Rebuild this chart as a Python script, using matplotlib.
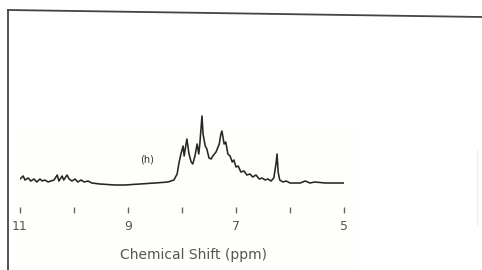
import matplotlib
matplotlib.use("Agg")
import matplotlib.pyplot as plt
from matplotlib.lines import Line2D
from matplotlib.patches import Rectangle

# ---------------------------------------------------------------------------
# Data (ppm, relative intensity)
# ---------------------------------------------------------------------------
ppm = [
    11.00, 10.94, 10.91, 10.85, 10.80, 10.74, 10.69, 10.63, 10.59, 10.54,
    10.48, 10.43, 10.37, 10.31, 10.28, 10.22, 10.19, 10.13, 10.09, 10.04,
    9.98, 9.93, 9.87, 9.81, 9.74, 9.67, 9.52, 9.24, 9.06, 8.78,
    8.50, 8.26, 8.15, 8.09, 8.06, 8.02, 7.98, 7.96, 7.94, 7.91,
    7.87, 7.83, 7.80, 7.76, 7.72, 7.69, 7.67, 7.63, 7.61, 7.57,
    7.54, 7.50, 7.46, 7.43, 7.37, 7.31, 7.28, 7.26, 7.22, 7.19,
    7.15, 7.11, 7.07, 7.04, 7.00, 6.96, 6.91, 6.85, 6.80, 6.74,
    6.69, 6.63, 6.57, 6.52, 6.46, 6.41, 6.35, 6.30, 6.26, 6.24,
    6.22, 6.19, 6.13, 6.07, 6.00, 5.81, 5.72, 5.63, 5.54, 5.35,
    5.00,
]
intensity = [
    5, 8, 4, 6, 3, 5, 2, 5, 3, 4,
    2, 3, 4, 9, 3, 8, 4, 9, 5, 3,
    5, 2, 4, 2, 3, 1, 0, -1, -1, 0,
    1, 2, 4, 10, 20, 30, 38, 28, 35, 45,
    30, 22, 20, 28, 40, 30, 40, 68, 50, 38,
    35, 26, 25, 28, 32, 40, 50, 53, 40, 42,
    30, 28, 22, 24, 17, 18, 12, 13, 9, 10,
    7, 9, 5, 6, 4, 5, 3, 6, 20, 30,
    12, 4, 2, 3, 1, 1, 3, 1, 2, 1,
    1,
]

tick_pos = [11, 10, 9, 8, 7, 6, 5]
tick_labels = ["11", "", "9", "", "7", "", "5"]

W, H = 482, 270
TEXT = "#555555"
INK = "#262626"

fig = plt.figure(figsize=(W / 100, H / 100), dpi=100)
fig.patch.set_facecolor("white")

# faint cream patch of the scanned page
fig.add_artist(Rectangle((18 / W, 0), 335 / W, 142 / H,
                         transform=fig.transFigure, color="#fefefb",
                         zorder=-5))

# ---- spectrum axes: 11 ppm at x=20 px, 5 ppm at x=344 px --------------------
ax = fig.add_axes([20 / W, 82 / H, 324 / W, 76 / H])
ax.set_zorder(3)
ax.patch.set_visible(False)
ax.plot(ppm, intensity, color=INK, lw=1.15, solid_joinstyle="round")
ax.set_xlim(11, 5)
ax.set_ylim(-4, 72)

for side in ["top", "right", "left"]:
    ax.spines[side].set_visible(False)
ax.spines["bottom"].set_position(("outward", 14))
ax.spines["bottom"].set_visible(False)
ax.set_yticks([])
ax.set_xticks(tick_pos)
ax.set_xticklabels(tick_labels)
ax.tick_params(axis="x", direction="out", length=4.3, width=1.0,
               color="#666666", pad=5, labelsize=9, labelcolor=TEXT)

ax.text(8.65, 25, "(h)", fontsize=7, color="#333333",
        ha="center", va="center")

fig.text(193 / W, 1 - 255 / H, "Chemical Shift (ppm)", fontsize=10,
         color=TEXT, ha="center", va="center")

# ---- scanned page frame ----------------------------------------------------
fig.add_artist(Line2D([8 / W, 8 / W], [0, 1 - 10 / H], color="#444444",
                      lw=1.3, transform=fig.transFigure))
fig.add_artist(Line2D([8 / W, 1], [1 - 10 / H, 1 - 17 / H], color="#444444",
                      lw=1.3, transform=fig.transFigure))
fig.add_artist(Line2D([477 / W, 477 / W], [1 - 225 / H, 1 - 150 / H],
                      color="#eeeeee", lw=0.8, transform=fig.transFigure))

fig.savefig("out.png", dpi=100)
